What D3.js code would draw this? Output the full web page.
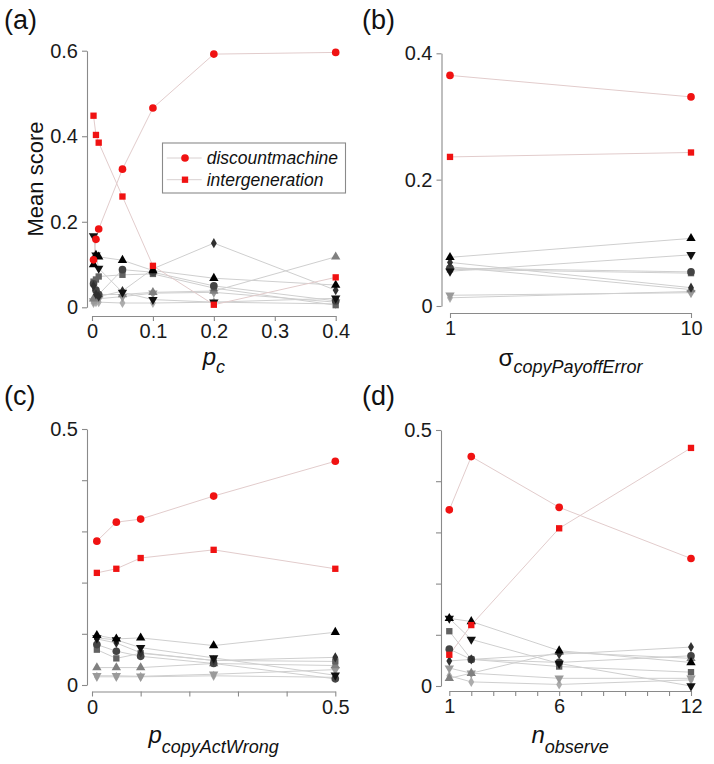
<!DOCTYPE html>
<html>
<head>
<meta charset="utf-8">
<script src="https://cdn.jsdelivr.net/npm/d3@7/dist/d3.min.js"></script>
<style>
  html, body { margin: 0; padding: 0; background: #fff; }
  svg { display: block; font-family: "Liberation Sans", Arial, sans-serif; }
</style>
</head>
<body>
<svg id="chart" width="714" height="764"></svg>
<script>
// ---------------- DATA ----------------
// red (named) strategies
const legendNames = ["discountmachine", "intergeneration"];

// (a) p_c
const xA = [0.0025, 0.0065, 0.011, 0.05, 0.1, 0.2, 0.4];
const xTicksA = [0, 0.1, 0.2, 0.3, 0.4];
const yTicksA = [0, 0.2, 0.4, 0.6];
const discA = [0.111, 0.159, 0.183, 0.323, 0.466, 0.592, 0.596];
const interA = [0.448, 0.403, 0.385, 0.259, 0.097, 0.006, 0.070];
const grayA = [
  [0.100, 0.122, 0.118, 0.110, 0.086, 0.068, 0.052],
  [0.167, 0.122, 0.091, 0.035, 0.018, 0.012, 0.021],
  [0.050, 0.030, 0.025, 0.038, 0.090, 0.150, 0.040],
  [0.055, 0.040, 0.030, 0.088, 0.082, 0.050, 0.015],
  [0.060, 0.065, 0.072, 0.076, 0.078, 0.045, 0.005],
  [0.020, 0.025, 0.030, 0.030, 0.035, 0.038, 0.118],
  [0.015, 0.018, 0.020, 0.025, 0.033, 0.035, 0.012],
  [0.010, 0.012, 0.012, 0.010, 0.010, 0.012, 0.008]
];

// (b) sigma_copyPayoffError
const xB = [1, 10];
const xTicksB = [1, 10];
const yTicksB = [0, 0.2, 0.4];
const discB = [0.365, 0.331];
const interB = [0.236, 0.243];
const grayB = [
  [0.077, 0.107],
  [0.055, 0.081],
  [0.069, 0.029],
  [0.060, 0.054],
  [0.058, 0.052],
  [0.062, 0.026],
  [0.017, 0.021],
  [0.013, 0.023]
];

// (c) p_copyActWrong
const xC = [0.01, 0.05, 0.1, 0.25, 0.5];
const xTicksC = [0, 0.1, 0.2, 0.3, 0.4, 0.5];
const xLabelsC = [0, 0.5];
const yTicksC = [0, 0.1, 0.2, 0.3, 0.4, 0.5];
const yLabelsC = [0, 0.5];
const discC = [0.281, 0.318, 0.324, 0.369, 0.437];
const interC = [0.219, 0.227, 0.248, 0.264, 0.227];
const grayC = [
  [0.097, 0.090, 0.092, 0.077, 0.103],
  [0.092, 0.088, 0.073, 0.053, 0.019],
  [0.090, 0.082, 0.063, 0.048, 0.054],
  [0.079, 0.066, 0.056, 0.042, 0.012],
  [0.069, 0.052, 0.062, 0.048, 0.046],
  [0.034, 0.034, 0.034, 0.042, 0.038],
  [0.018, 0.018, 0.017, 0.021, 0.030],
  [0.016, 0.016, 0.016, 0.018, 0.015]
];

// (d) n_observe
const xD = [1, 2, 6, 12];
const xTicksD = [1, 2, 3, 4, 5, 6, 7, 8, 9, 10, 11, 12];
const xLabelsD = [1, 6, 12];
const yTicksD = [0, 0.1, 0.2, 0.3, 0.4, 0.5];
const yLabelsD = [0, 0.5];
const discD = [0.344, 0.448, 0.349, 0.249];
const interD = [0.061, 0.119, 0.308, 0.465];
const grayD = [
  [0.132, 0.126, 0.069, 0.046],
  [0.132, 0.091, 0.044, 0.000],
  [0.049, 0.052, 0.062, 0.076],
  [0.072, 0.052, 0.046, 0.059],
  [0.107, 0.052, 0.038, 0.027],
  [0.015, 0.025, 0.066, 0.054],
  [0.035, 0.025, 0.015, 0.015],
  [0.020, 0.008, 0.003, 0.012]
];

// ---------------- STYLE ----------------
const grayShapes = ["triangle", "triangleDown", "diamond", "circle", "square", "triangle", "triangleDown", "diamond"];
const grayColors = ["#000000", "#111111", "#303030", "#444444", "#626262", "#808080", "#9a9a9a", "#acacac"];
const RED = "#f01212";

const svg = d3.select("#chart");

function symbolPath(shape) {
  switch (shape) {
    case "circle": return d3.symbol(d3.symbolCircle, 46)();
    case "square": return d3.symbol(d3.symbolSquare, 40)();
    case "triangle":
    case "triangleDown": return d3.symbol(d3.symbolTriangle, 38)();
    case "diamond": return d3.symbol(d3.symbolDiamond, 30)();
  }
}
function drawMarker(g, shape, color, px, py) {
  g.append("path")
    .attr("d", symbolPath(shape))
    .attr("transform", `translate(${px},${py})` + (shape === "triangleDown" ? " rotate(180)" : ""))
    .attr("fill", color);
}

function panel(cfg) {
  const g = svg.append("g");
  const x = d3.scaleLinear().domain(cfg.xDomain).range(cfg.xRange);
  const y = d3.scaleLinear().domain(cfg.yDomain).range(cfg.yRange);

  // axes
  const fmtX = v => (cfg.xLabels ? (cfg.xLabels.some(l => Math.abs(l - v) < 1e-9) ? String(v) : "") : String(v));
  const fmtY = v => (cfg.yLabels ? (cfg.yLabels.some(l => Math.abs(l - v) < 1e-9) ? String(v) : "") : String(v));
  const xAxis = d3.axisBottom(x).tickValues(cfg.xTicks).tickSizeInner(5).tickSizeOuter(0).tickPadding(3).tickFormat(fmtX);
  const yAxis = d3.axisLeft(y).tickValues(cfg.yTicks).tickSizeInner(5).tickSizeOuter(0).tickPadding(4).tickFormat(fmtY);
  const gx = g.append("g").attr("transform", `translate(0,${cfg.xAxisY})`).call(xAxis);
  const gy = g.append("g").attr("transform", `translate(${cfg.yAxisX},0)`).call(yAxis);
  [gx, gy].forEach(a => {
    a.select(".domain").attr("stroke", "#8a8a8a").attr("stroke-width", 1.1);
    a.selectAll(".tick line").attr("stroke", "#8a8a8a").attr("stroke-width", 1.1);
    a.selectAll(".tick text").attr("fill", "#1a1a1a").style("font-size", "20px")
      .style("font-family", '"Liberation Sans", Arial, sans-serif');
  });

  const line = d3.line().x((d, i) => x(cfg.xs[i])).y(d => y(d));
  // connecting lines
  cfg.gray.forEach(s => {
    g.append("path").attr("d", line(s)).attr("fill", "none").attr("stroke", "#cfcfcf").attr("stroke-width", 1);
  });
  [cfg.disc, cfg.inter].forEach(s => {
    g.append("path").attr("d", line(s)).attr("fill", "none").attr("stroke", "#e2cccc").attr("stroke-width", 1);
  });
  // markers (light first, dark on top)
  for (let k = cfg.gray.length - 1; k >= 0; k--) {
    cfg.gray[k].forEach((v, i) => drawMarker(g, grayShapes[k], grayColors[k], x(cfg.xs[i]), y(v)));
  }
  cfg.inter.forEach((v, i) => drawMarker(g, "square", RED, x(cfg.xs[i]), y(v)));
  cfg.disc.forEach((v, i) => drawMarker(g, "circle", RED, x(cfg.xs[i]), y(v)));

  // panel letter
  g.append("text").attr("x", cfg.letterX).attr("y", cfg.letterY).text(cfg.letter)
    .style("font-size", "27px").attr("fill", "#111");

  // x title with subscript
  const cx = (cfg.xRange[0] + cfg.xRange[1]) / 2;
  const t = g.append("text").attr("x", cx).attr("y", cfg.titleY).attr("text-anchor", "middle").attr("fill", "#111");
  t.append("tspan").text(cfg.titleMain).style("font-size", "24px")
    .style("font-style", cfg.titleItalic ? "italic" : "normal");
  t.append("tspan").attr("dy", cfg.subDy).text(cfg.titleSub).style("font-size", "18px").style("font-style", "italic");
  return { x, y, g };
}

panel({
  letter: "(a)", letterX: 4, letterY: 29,
  xs: xA, disc: discA, inter: interA, gray: grayA,
  xDomain: [0, 0.4], xRange: [92, 335.7], xTicks: xTicksA,
  yDomain: [0, 0.6], yRange: [307.3, 50.7], yTicks: yTicksA,
  xAxisY: 316, yAxisX: 87,
  titleMain: "p", titleSub: "c", titleItalic: true, titleY: 365, subDy: 8
});
panel({
  letter: "(b)", letterX: 362, letterY: 29,
  xs: xB, disc: discB, inter: interB, gray: grayB,
  xDomain: [1, 10], xRange: [450, 691], xTicks: xTicksB,
  yDomain: [0, 0.4], yRange: [306, 53.3], yTicks: yTicksB,
  xAxisY: 313, yAxisX: 441.5,
  titleMain: "σ", titleSub: "copyPayoffError", titleItalic: false, titleY: 366, subDy: 7
});
panel({
  letter: "(c)", letterX: 4, letterY: 405,
  xs: xC, disc: discC, inter: interC, gray: grayC,
  xDomain: [0, 0.5], xRange: [92, 335.3], xTicks: xTicksC, xLabels: xLabelsC,
  yDomain: [0, 0.5], yRange: [685, 429], yTicks: yTicksC, yLabels: yLabelsC,
  xAxisY: 691.5, yAxisX: 87,
  titleMain: "p", titleSub: "copyActWrong", titleItalic: true, titleY: 743, subDy: 10
});
panel({
  letter: "(d)", letterX: 362, letterY: 405,
  xs: xD, disc: discD, inter: interD, gray: grayD,
  xDomain: [1, 12], xRange: [449.3, 691], xTicks: xTicksD, xLabels: xLabelsD,
  yDomain: [0, 0.5], yRange: [686, 430], yTicks: yTicksD, yLabels: yLabelsD,
  xAxisY: 691, yAxisX: 441,
  titleMain: "n", titleSub: "observe", titleItalic: true, titleY: 743, subDy: 10
});

// y title for (a)
svg.append("text")
  .attr("transform", "translate(43,179) rotate(-90)")
  .attr("text-anchor", "middle").attr("fill", "#111")
  .style("font-size", "22px").text("Mean score");

// legend in (a)
const lg = svg.append("g");
lg.append("rect").attr("x", 162.5).attr("y", 143).attr("width", 183).attr("height", 50)
  .attr("fill", "#fff").attr("stroke", "#8a8a8a").attr("stroke-width", 1.1);
const legendShapes = ["circle", "square"];
const legendRowY = [158, 179.7];
legendNames.forEach((name, i) => {
  lg.append("line").attr("x1", 166.7).attr("x2", 201.7).attr("y1", legendRowY[i]).attr("y2", legendRowY[i])
    .attr("stroke", "#d8d0d0").attr("stroke-width", 1);
  drawMarker(lg, legendShapes[i], RED, 185, legendRowY[i]);
  lg.append("text").attr("x", 206.7).attr("y", legendRowY[i]).attr("dy", "0.35em")
    .style("font-size", "17.5px").style("font-style", "italic").attr("fill", "#111").text(name);
});
</script>
</body>
</html>
